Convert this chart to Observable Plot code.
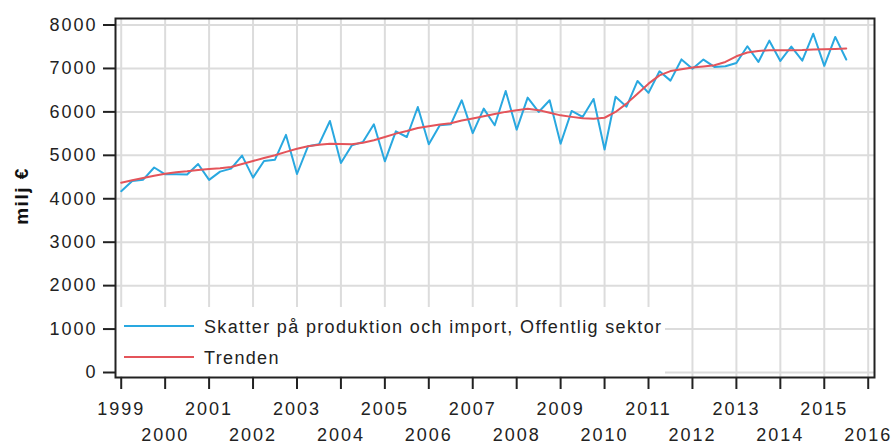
<!DOCTYPE html>
<html><head><meta charset="utf-8">
<script src="https://cdn.jsdelivr.net/npm/d3@7"></script>
<script src="https://cdn.jsdelivr.net/npm/@observablehq/plot@0.6"></script>
<style>
body{margin:0;background:#fff;}
#chart svg g[aria-label="x-axis tick label"] text, #chart svg g[aria-label="y-axis tick label"] text{letter-spacing:2px;}
</style></head><body><div id="chart"></div><script>
const startYear = 1999;
const seriesNames = ["Skatter på produktion och import, Offentlig sektor", "Trenden"];
const seriesColors = ["#29a8e0", "#e4545a"];
const yLabel = "milj €";
const yTicks = [0, 1000, 2000, 3000, 4000, 5000, 6000, 7000, 8000];
const xTickYears = [1999, 2000, 2001, 2002, 2003, 2004, 2005, 2006, 2007, 2008, 2009, 2010, 2011, 2012, 2013, 2014, 2015, 2016];
// quarterly values, 1999 Q1 .. 2015 Q3
const taxValues = [
  4175, 4410, 4440, 4720,
  4562, 4562, 4560, 4800,
  4435, 4625, 4693, 4993,
  4486, 4870, 4900, 5470,
  4570, 5207, 5253, 5791,
  4823, 5230, 5306, 5714,
  4862, 5553, 5422, 6113,
  5253, 5691, 5714, 6267,
  5510, 6075, 5691, 6482,
  5591, 6329, 5998, 6267,
  5269, 6021, 5883, 6298,
  5135, 6350, 6120, 6712,
  6438, 6935, 6720, 7208,
  6993, 7205, 7035, 7050,
  7127, 7512, 7150, 7640,
  7173, 7505, 7180, 7800,
  7060, 7726, 7205
];
const trendValues = [
  4370, 4424, 4480, 4532,
  4578, 4608, 4631, 4662,
  4685, 4700, 4730, 4800,
  4870, 4940, 5000, 5080,
  5150, 5210, 5245, 5265,
  5262, 5255, 5290, 5346,
  5420, 5500, 5560, 5630,
  5670, 5710, 5740, 5800,
  5850, 5900, 5950, 6000,
  6040, 6070, 6040, 5980,
  5920, 5885, 5855, 5840,
  5865, 5998, 6190, 6420,
  6650, 6840, 6940, 6982,
  7020, 7045, 7074, 7150,
  7280, 7366, 7403, 7419,
  7420, 7420, 7422, 7435,
  7442, 7450, 7458
];

const rows = taxValues.map((v, i) => ({t: startYear + i / 4, tax: v, trend: trendValues[i]}));

const plot = Plot.plot({
  width: 893, height: 446,
  marginLeft: 115, marginRight: 19, marginTop: 18, marginBottom: 69,
  style: {fontFamily: "'Liberation Sans', Arial, sans-serif", fontSize: "18px", color: "#222", background: "#fff", overflow: "visible"},
  x: {domain: [1998.87, 2016.143], label: null},
  y: {domain: [-115, 8150], label: null},
  marks: [
    Plot.gridX(xTickYears, {stroke: "#dcdcdc", strokeOpacity: 1, strokeWidth: 2}),
    Plot.gridY(yTicks, {stroke: "#dcdcdc", strokeOpacity: 1, strokeWidth: 2}),
    Plot.line(rows, {x: "t", y: "tax", stroke: seriesColors[0], strokeWidth: 2}),
    Plot.line(rows, {x: "t", y: "trend", stroke: seriesColors[1], strokeWidth: 2}),
    Plot.axisX(xTickYears, {tickSize: 12, tickPadding: 13, tickFormat: d => d % 2 ? String(d) : "", stroke: "#222", strokeWidth: 2, fill: "#222"}),
    Plot.axisX(xTickYears.filter(d => d % 2 === 0), {tickSize: 0, tickPadding: 51, tickFormat: d => String(d), fill: "#222"}),
    Plot.axisY(yTicks, {tickSize: 12, tickPadding: 6, tickFormat: d => String(d), stroke: "#222", strokeWidth: 2, fill: "#222"}),
    Plot.frame({stroke: "#222", strokeWidth: 2})
  ]
});
document.getElementById("chart").appendChild(plot);

const svg = d3.select(plot);
// legend box (covers grid)
const frameNode = svg.select('[aria-label="frame"]').node();
const lg = svg.insert("g", () => frameNode);
lg.append("rect").attr("x", 116).attr("y", 307).attr("width", 549).attr("height", 69).attr("fill", "#fff");
const legendY = [326, 357];
seriesNames.forEach((name, i) => {
  lg.append("line").attr("x1", 124).attr("x2", 194).attr("y1", legendY[i]).attr("y2", legendY[i])
    .attr("stroke", seriesColors[i]).attr("stroke-width", 2);
  lg.append("text").attr("x", 204).attr("y", legendY[i] + 6.5).text(name)
    .attr("text-anchor", "start").attr("font-size", 18).attr("fill", "#222").style("letter-spacing", "1.35px");
});
// y-axis title
svg.append("text").attr("transform", "translate(28,196) rotate(-90)").attr("text-anchor", "middle")
  .attr("font-weight", "bold").attr("font-size", 19).attr("fill", "#111").style("letter-spacing", "1.5px").text(yLabel);
</script></body></html>
